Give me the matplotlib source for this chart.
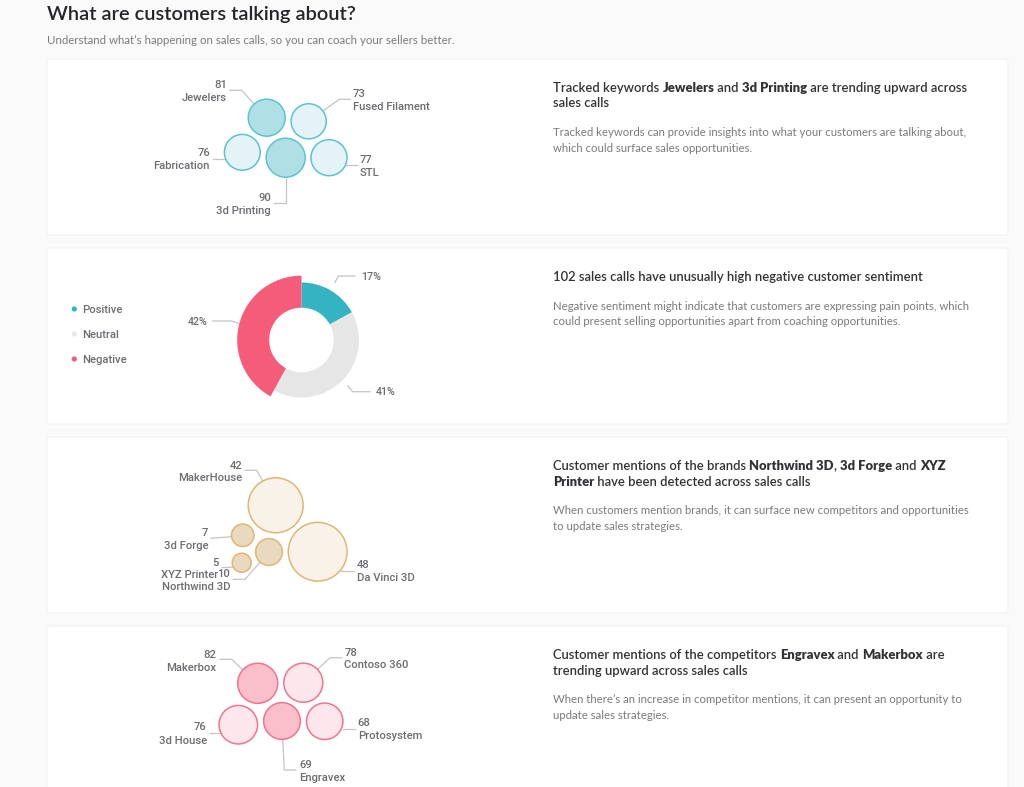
import matplotlib
matplotlib.use("Agg")
import numpy as np
import matplotlib.pyplot as plt
from matplotlib.patches import Circle, Wedge, FancyBboxPatch

kw_names = ["Jewelers", "Fused Filament", "Fabrication", "3d Printing", "STL"]
kw_values = [81, 73, 76, 90, 77]
kw_top = ["Jewelers", "3d Printing"]

sent_names = ["Positive", "Neutral", "Negative"]
sent_values = [17, 41, 42]

brand_names = ["MakerHouse", "3d Forge", "XYZ Printer", "Northwind 3D", "Da Vinci 3D"]
brand_values = [42, 7, 5, 10, 48]
brand_top = ["3d Forge", "XYZ Printer", "Northwind 3D"]

comp_names = ["Makerbox", "Contoso 360", "3d House", "Engravex", "Protosystem"]
comp_values = [82, 78, 76, 69, 68]
comp_top = ["Makerbox", "Engravex"]

TEAL = "#34b4c3"
PINK = "#f45c7a"
GREY = "#e6e6e6"
LABEL = "#6b6d72"
LEADER = "#c4c4c4"
BODY = "#7b7b7f"
DARK = "#333337"
CHART_FONT = "Roboto"
TEXT_FONT = "Lato"

fig = plt.figure(figsize=(10.24, 7.87), dpi=100, facecolor="#fafafa")
ax = fig.add_axes([0, 0, 1, 1])
ax.set_xlim(0, 1024)
ax.set_ylim(787, 0)
ax.axis("off")

# cards
for top, bottom in [(59, 235), (248, 424), (437, 613), (626, 800)]:
    ax.add_patch(FancyBboxPatch((47, top), 961, bottom - top, boxstyle="round,pad=0,rounding_size=3",
                                fc="white", ec="#f4f4f4", lw=1, zorder=1))


def chart_text(x, y, txt, ha="left", size=8.1):
    # y = centro das maiusculas, o baseline fica 4 px abaixo
    ax.text(x, y + 4, txt, ha=ha, va="baseline", fontsize=size, color=LABEL,
            family=CHART_FONT, fontweight="medium", zorder=4)


def bubbles(names, values, top, centers, scale, edge, light, dark, leaders, labels):
    for name, val, (cx, cy) in zip(names, values, centers):
        fill = dark if name in top else light
        ax.add_patch(Circle((cx, cy), scale * np.sqrt(val), fc=fill, ec=edge, lw=1.1, zorder=3))
    for name, val, pts, (x, y1, y2, ha) in zip(names, values, leaders, labels):
        xs, ys = zip(*pts)
        ax.plot(xs, ys, color=LEADER, lw=0.9, zorder=2)
        chart_text(x, y1, str(val), ha)
        chart_text(x, y2, name, ha)


bubbles(kw_names, kw_values, kw_top,
        [(266.7, 117.7), (308.7, 121.3), (242.3, 152.3), (285.7, 157.7), (329, 157.7)],
        2.055, "#5cc4d0", "#e3f3f7", "#b0e0e6",
        [[(230, 90.3), (241.7, 90.3), (254, 104)],
         [(350, 99.3), (339.3, 99.3), (323.3, 110.7)],
         [(213.3, 158.7), (225, 158.7)],
         [(285.7, 176.7), (285.7, 203.3), (274.3, 203.3)],
         [(346, 164.7), (356.7, 164.7)]],
        [(227.3, 84.3, 97.3, "right"), (352.7, 93.3, 106, "left"), (210, 152.3, 165.3, "right"),
         (271, 197, 210, "right"), (359.3, 159, 171.7, "left")])

bubbles(brand_names, brand_values, brand_top,
        [(275.7, 505.3), (242.7, 535.3), (241.7, 562.7), (269, 552), (317.7, 551.7)],
        4.24, "#dfb673", "#f8f2e9", "#e9d9be",
        [[(245, 470.3), (256.7, 470.3), (262.7, 481)],
         [(211, 538.3), (231.7, 536.7)],
         [(222, 567.7), (234, 567)],
         [(233.3, 579.3), (245, 579.3), (260, 562.3)],
         [(340.7, 570.7), (354, 570.7)]],
        [(242, 465, 477.3, "right"), (208, 532.3, 545, "right"), (218.5, 561.7, 574.3, "right"),
         (230, 573.3, 586, "right"), (356.7, 564.3, 577, "left")])

bubbles(comp_names, comp_values, comp_top,
        [(257.7, 683.3), (303.3, 682.7), (238.3, 724.7), (282, 721), (324.7, 721.3)],
        2.21, "#f4738d", "#fde6ec", "#fbbfcc",
        [[(220, 659.3), (231.7, 659.3), (242.7, 670)],
         [(341.7, 657.7), (330, 657.7), (317.7, 669.3)],
         [(210, 733.3), (220.7, 733.3)],
         [(282.7, 739.3), (284.3, 770), (296, 770)],
         [(342.7, 728.7), (355, 728.7)]],
        [(216, 653.7, 666.7, "right"), (344.3, 651.7, 664.3, "left"), (206.7, 726.3, 739.7, "right"),
         (299.3, 763.7, 776.7, "left"), (357.7, 722.3, 735, "left")])

# donut
donut_colors = [TEAL, GREY, PINK]
donut_radius = [57.5, 57.5, 64.3]
start = -90.0
for val, col, rad in zip(sent_values, donut_colors, donut_radius):
    end = start + 360.0 * val / sum(sent_values)
    ax.add_patch(Wedge((301.5, 340), rad, start, end, width=rad - 32.3, fc=col, ec="none", zorder=3))
    start = end

for pts in [[(335, 282.3), (338.3, 276), (355, 276)],
            [(347.7, 385.7), (352.7, 391.7), (370, 391.7)],
            [(238.3, 323.3), (231.7, 321), (212.7, 321)]]:
    xs, ys = zip(*pts)
    ax.plot(xs, ys, color=LEADER, lw=0.9, zorder=2)
for val, x, y, ha in zip(sent_values, [360.7, 375.7, 207.7], [275.7, 391, 320.7], ["left", "left", "right"]):
    chart_text(x, y, f"{val}%", ha, size=7.7)

for name, col, y in zip(sent_names, donut_colors, [309, 334, 359]):
    ax.add_patch(Circle((74.3, y), 2.6, fc=col, ec="none", zorder=3))
    chart_text(82, y, name)


def rich_line(x, y, parts, size=9.4):
    # parts = (texto, negrito), desenha em sequencia no mesmo baseline
    rend = fig.canvas.get_renderer()
    for txt, bold in parts:
        weight = "heavy" if bold else "semibold"
        t = ax.text(x, y, txt.replace(" ", "\u00a0"), ha="left", va="baseline", fontsize=size, color=DARK,
                    family=TEXT_FONT, fontweight=weight, zorder=4)
        x += t.get_window_extent(rend).width


def body_lines(x, y, lines):
    for i, line in enumerate(lines):
        ax.text(x, y + i * 15.7, line, ha="left", va="baseline", fontsize=8.2, color=BODY,
                family=TEXT_FONT, zorder=4)


ax.text(47, 20, "What are customers talking about?", ha="left", va="baseline", fontsize=14.4,
        color="#26262a", family=TEXT_FONT, fontweight="semibold")
ax.text(47, 44.3, "Understand what\u2019s happening on sales calls, so you can coach your sellers better.",
        ha="left", va="baseline", fontsize=8.25, color=BODY, family=TEXT_FONT)

rich_line(553, 91.7, [("Tracked keywords ", False), ("Jewelers", True), (" and ", False), ("3d Printing", True),
                      (" are trending upward across", False)])
rich_line(553, 107.4, [("sales calls", False)])
body_lines(553, 136, ["Tracked keywords can provide insights into what your customers are talking about,",
                      "which could surface sales opportunities."])

rich_line(553, 280.7, [("102 sales calls have unusually high negative customer sentiment", False)])
body_lines(553, 309.5, ["Negative sentiment might indicate that customers are expressing pain points, which",
                        "could present selling opportunities apart from coaching opportunities."])

rich_line(553, 470, [("Customer mentions of the brands ", False), ("Northwind 3D", True), (", ", False),
                     ("3d Forge", True), (" and ", False), ("XYZ", True)])
rich_line(553, 485.7, [("Printer", True), (" have been detected across sales calls", False)])
body_lines(553, 514.3, ["When customers mention brands, it can surface new competitors and opportunities",
                        "to update sales strategies."])

rich_line(553, 659, [("Customer mentions of the competitors ", False), ("Engravex", True), (" and ", False),
                     ("Makerbox", True), (" are", False)])
rich_line(553, 674.7, [("trending upward across sales calls", False)])
body_lines(553, 703.3, ["When there\u2019s an increase in competitor mentions, it can present an opportunity to",
                        "update sales strategies."])

fig.savefig("out.png", dpi=100, facecolor=fig.get_facecolor())
